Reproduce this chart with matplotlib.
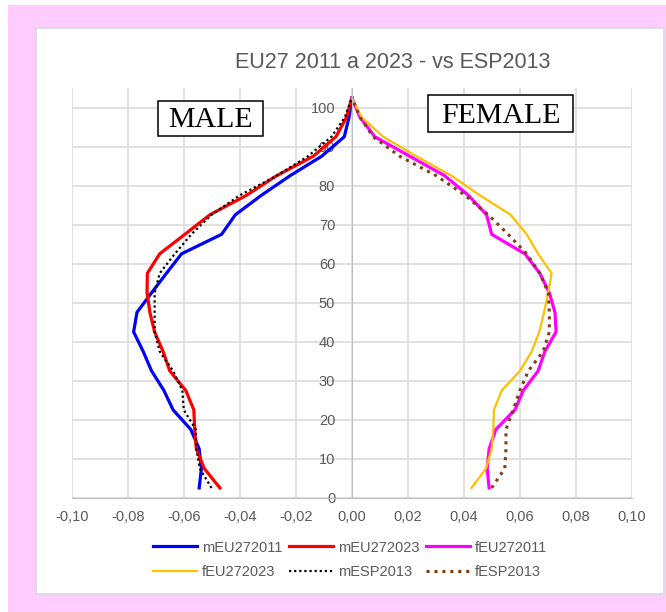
import matplotlib
matplotlib.use("Agg")
import matplotlib.pyplot as plt
from matplotlib.patches import Rectangle
from matplotlib.ticker import FuncFormatter

# === data (age-group midpoints, share of population) =====================
ages = [2.5, 7.5, 12.5, 17.5, 22.5, 27.5, 32.5, 37.5, 42.5, 47.5,
        52.5, 57.5, 62.5, 67.5, 72.5, 77.5, 82.5, 87.5, 92.5, 97.5, 102.5]

mEU272011 = [-0.0545, -0.0537, -0.0545, -0.0575, -0.0638, -0.0671, -0.0715,
             -0.0745, -0.0779, -0.0767, -0.0715, -0.0662, -0.0608, -0.0465,
             -0.0416, -0.0323, -0.0221, -0.0108, -0.0027, -0.0010, 0.0]
mEU272023 = [-0.0471, -0.0527, -0.0555, -0.0561, -0.0564, -0.0593, -0.0650,
             -0.0674, -0.0704, -0.0721, -0.0731, -0.0730, -0.0686, -0.0596,
             -0.0507, -0.0376, -0.0269, -0.0138, -0.0057, -0.0019, 0.0]
fEU272011 = [0.0490, 0.0483, 0.0490, 0.0514, 0.0582, 0.0612, 0.0665,
             0.0689, 0.0729, 0.0725, 0.0705, 0.0671, 0.0618, 0.0499,
             0.0481, 0.0416, 0.0332, 0.0207, 0.0082, 0.0029, 0.0]
fEU272023 = [0.0427, 0.0479, 0.0499, 0.0505, 0.0507, 0.0535, 0.0600,
             0.0642, 0.0669, 0.0686, 0.0701, 0.0713, 0.0665, 0.0624,
             0.0567, 0.0457, 0.0356, 0.0231, 0.0112, 0.0035, 0.0]
mESP2013 = [-0.0501, -0.0543, -0.0555, -0.0557, -0.0600, -0.0605, -0.0638,
            -0.0686, -0.0704, -0.0704, -0.0704, -0.0686, -0.0632, -0.0573,
            -0.0501, -0.0400, -0.0269, -0.0157, -0.0073, -0.0025, 0.0]
fESP2013 = [0.0499, 0.0546, 0.0550, 0.0550, 0.0576, 0.0600, 0.0630,
            0.0683, 0.0705, 0.0705, 0.0701, 0.0671, 0.0624, 0.0558,
            0.0487, 0.0404, 0.0302, 0.0171, 0.0076, 0.0029, 0.0]

x_ticks = [-0.10, -0.08, -0.06, -0.04, -0.02, 0.0, 0.02, 0.04, 0.06, 0.08, 0.10]
y_ticks = [0, 10, 20, 30, 40, 50, 60, 70, 80, 90, 100]

W, H = 666, 612
GRAY = "#595959"
GRID = "#D9D9D9"

plt.rcParams["font.family"] = ["Liberation Sans", "DejaVu Sans"]

fig = plt.figure(figsize=(W / 100, H / 100), dpi=100)
fig.patch.set_facecolor("white")

def px_rect(x0, y0, x1, y1, **kw):
    # rectangle in pixel coords (origin top-left)
    r = Rectangle((x0 / W, 1 - y1 / H), (x1 - x0) / W, (y1 - y0) / H,
                  transform=fig.transFigure, **kw)
    fig.patches.append(r)

px_rect(8, 5, W, H, facecolor="#FFCCFF", edgecolor="none", zorder=0)
px_rect(36, 28, 664, 594, facecolor="white", edgecolor=GRID, linewidth=1.2, zorder=1)

ax = fig.add_axes([71.7 / W, 1 - 497.7 / H, (632 - 71.7) / W, (497.7 - 88) / H])
ax.set_facecolor("none")
ax.set_zorder(2)

ax.plot(mEU272011, ages, color="#0000FF", lw=2.3, label="mEU272011")
ax.plot(mEU272023, ages, color="#FF0000", lw=2.3, label="mEU272023")
ax.plot(fEU272011, ages, color="#FF00FF", lw=2.3, label="fEU272011")
ax.plot(fEU272023, ages, color="#FFC000", lw=1.6, label="fEU272023")
ax.plot(mESP2013, ages, color="black", lw=1.6, ls=(0, (1, 1.3)), label="mESP2013")
ax.plot(fESP2013, ages, color="#7F3F0F", lw=2.2, ls=(0, (1, 1.6)), label="fESP2013")

ax.set_xlim(-0.10, 0.10)
ax.set_ylim(0, 105)
ax.set_xticks(x_ticks)
ax.set_yticks(y_ticks)
ax.xaxis.set_major_formatter(FuncFormatter(lambda v, p: f"{v:.2f}".replace(".", ",")))
ax.grid(True, color=GRID, lw=1.1)
ax.set_axisbelow(True)

for s in ("top", "right"):
    ax.spines[s].set_visible(False)
ax.spines["left"].set_position(("data", 0))
ax.spines["left"].set_color("#BFBFBF")
ax.spines["bottom"].set_color("#BFBFBF")
ax.tick_params(axis="both", length=0, colors=GRAY, labelsize=10.5)
ax.tick_params(axis="y", pad=12)
ax.tick_params(axis="x", pad=9)

fig.text(393 / W, 1 - 68.3 / H, "EU27 2011 a 2023 - vs ESP2013",
         ha="center", va="baseline", color=GRAY, fontsize=15.5)

# MALE / FEMALE boxed captions
px_rect(158, 101, 263, 136, facecolor="white", edgecolor="black", linewidth=1.1, zorder=5)
px_rect(428, 95, 573, 132, facecolor="white", edgecolor="black", linewidth=1.1, zorder=5)
fig.text(210.5 / W, 1 - 126.7 / H, "MALE", ha="center", va="baseline",
         family="Liberation Serif", fontsize=21.5, zorder=6)
fig.text(500.5 / W, 1 - 122.7 / H, "FEMALE", ha="center", va="baseline",
         family="Liberation Serif", fontsize=21.5, zorder=6)

h, l = ax.get_legend_handles_labels()
order = [0, 3, 1, 4, 2, 5]
leg = fig.legend([h[i] for i in order], [l[i] for i in order],
                 loc="center", bbox_to_anchor=(350 / W, 1 - 560 / H), ncol=3,
                 frameon=False, fontsize=10.5, handlelength=3.0, columnspacing=0.45,
                 handletextpad=0.35, labelspacing=0.75)
for t in leg.get_texts():
    t.set_color(GRAY)

fig.savefig("out.png", dpi=100)
